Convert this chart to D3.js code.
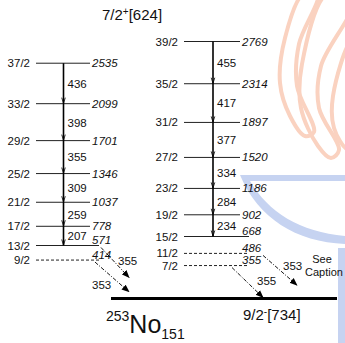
<!DOCTYPE html>
<html>
<head>
<meta charset="utf-8">
<script src="https://cdn.jsdelivr.net/npm/d3@7"></script>
<style>
  html, body { margin: 0; padding: 0; background: #fff; }
  svg { display: block; }
  text { font-family: "Liberation Sans", Arial, Helvetica, sans-serif; fill: #111; }
</style>
</head>
<body>
<svg id="chart" width="345" height="343"></svg>
<script>
// Level scheme of 253No: two rotational bands built on the 9/2-[734] ground state.

// Band on the 7/2+[624] configuration (left column)
const leftSpins    = ["37/2", "33/2", "29/2", "25/2", "21/2", "17/2", "13/2", "9/2"];
const leftEnergies = [2535, 2099, 1701, 1346, 1037, 778, 571, 414];
const leftGammas   = [436, 398, 355, 309, 259, 207];

// Band on the 9/2-[734] configuration (centre column)
const centerSpins    = ["39/2", "35/2", "31/2", "27/2", "23/2", "19/2", "15/2", "11/2", "7/2"];
const centerEnergies = [2769, 2314, 1897, 1520, 1186, 902, 668, 486, 355];
const centerGammas   = [455, 417, 377, 334, 284, 234];

// Tentative levels (dashed) and the out-of-band decays towards the ground state
const tentativeLevels = [414, 486, 355];
const outFrom  = [571, 414, 486, 355];
const outGamma = [355, 353, 353, 355];

const bandLabels = ["7/2", "9/2"];
const bandOrbitals = ["[624]", "[734]"];
const nucleus = { mass: "253", symbol: "No", neutrons: "151" };

const svg = d3.select("#chart");
const y = d3.scaleLinear().domain([0, 2769]).range([298.5, 41.5]);

// ---- background emblem -------------------------------------------------
const bg = svg.append("g");
const loop = d3.line().curve(d3.curveCatmullRomClosed);
const peach = "#fad2c0";
[
  [[303,-6],[285,38],[280,83],[290,116],[305,136],[314,132],[297,86],[299,44],[318,-6]],
  [[327,-6],[302,64],[301,108],[318,146],[331,158],[339,150],[319,108],[321,66],[352,2]],
  [[352,40],[333,96],[334,128],[348,150],[360,150],[360,40]]
].forEach(pts => {
  bg.append("path").attr("d", loop(pts))
    .attr("fill", "none").attr("stroke", peach).attr("stroke-width", 4);
});
const blue = "#c6d3f1";
bg.append("path")
  .attr("d", "M240,175 L345,175 L345,181 L250,181 C268,212 300,232 345,236 L345,244 C296,242 258,218 240,175 Z")
  .attr("fill", blue);
bg.append("rect").attr("x", 338).attr("y", 248).attr("width", 7).attr("height", 95).attr("fill", blue);

// ---- bands ---------------------------------------------------------------
const fg = svg.append("g");

function drawBand(spins, energies, gammas, g) {
  // level lines
  energies.forEach((e, i) => {
    const dashed = tentativeLevels.includes(e);
    const offsetLabel = i >= gammas.length;   // levels at the bottom carry raised labels
    const yy = y(e);
    fg.append("line")
      .attr("x1", g.x1).attr("x2", offsetLabel ? g.x2 + 9 : g.x2)
      .attr("y1", yy).attr("y2", yy)
      .attr("stroke", "#222").attr("stroke-width", 1)
      .attr("stroke-dasharray", dashed ? "3,2" : null);
    fg.append("text")
      .attr("x", g.x1 - 6).attr("y", yy).attr("dy", "0.35em")
      .attr("text-anchor", "end").attr("font-size", 11.5)
      .text(spins[i]);
    fg.append("text")
      .attr("x", g.x2 + 2).attr("y", offsetLabel ? yy - 1.5 : yy)
      .attr("dy", offsetLabel ? 0 : "0.35em")
      .attr("font-size", 11.5).attr("font-style", "italic")
      .text(e);
  });
  // in-band cascade
  const top = energies[0], bottom = energies[gammas.length];
  fg.append("line")
    .attr("x1", g.ax).attr("x2", g.ax)
    .attr("y1", y(top)).attr("y2", y(bottom))
    .attr("stroke", "#000").attr("stroke-width", 1.6);
  gammas.forEach((eg, i) => {
    const hi = energies[i], lo = energies[i + 1];
    const tip = y(lo) - 0.5;
    fg.append("path")
      .attr("d", `M${g.ax - 1.8},${tip - 5.5} L${g.ax},${tip} L${g.ax + 1.8},${tip - 5.5}`)
      .attr("fill", "none").attr("stroke", "#000").attr("stroke-width", 0.8);
    fg.append("text")
      .attr("x", g.ax + 4).attr("y", y((hi + lo) / 2)).attr("dy", "0.38em")
      .attr("font-size", 11.5)
      .text(eg);
  });
}

drawBand(leftSpins, leftEnergies, leftGammas, { x1: 36, x2: 90, ax: 63.5 });
drawBand(centerSpins, centerEnergies, centerGammas, { x1: 184, x2: 240, ax: 213 });

// ---- ground state ----------------------------------------------------------
fg.append("line")
  .attr("x1", 111).attr("x2", 337).attr("y1", y(0)).attr("y2", y(0))
  .attr("stroke", "#000").attr("stroke-width", 3);

// ---- out-of-band decays (dash-dot arrows) ---------------------------------
const defs = svg.append("defs");
defs.append("marker").attr("id", "head")
  .attr("viewBox", "0 0 10 10").attr("refX", 9).attr("refY", 5)
  .attr("markerWidth", 8).attr("markerHeight", 8).attr("markerUnits", "userSpaceOnUse")
  .attr("orient", "auto")
  .append("path").attr("d", "M0,1 L10,5 L0,9 Z").attr("fill", "#000");

const outGeom = [
  { xs: 101, xe: 129, lx: 118, ly: 265 },
  { xs: 95,  xe: 129, lx: 92,  ly: 289 },
  { xs: 263, xe: 297, lx: 283, ly: 270 },
  { xs: 232, xe: 263, lx: 257, ly: 285 }
];
outFrom.forEach((e, i) => {
  const g = outGeom[i];
  fg.append("line")
    .attr("x1", g.xs).attr("y1", y(e) + 2)
    .attr("x2", g.xe).attr("y2", y(e - outGamma[i]) - 1)
    .attr("stroke", "#000").attr("stroke-width", 0.9)
    .attr("stroke-dasharray", "4,1.5,1,1.5")
    .attr("marker-end", "url(#head)");
  fg.append("text").attr("x", g.lx).attr("y", g.ly)
    .attr("font-size", 11.5).text(outGamma[i]);
});

// ---- band and nucleus labels ----------------------------------------------
const t1 = fg.append("text").attr("x", 102).attr("y", 20).attr("font-size", 15);
t1.append("tspan").text(bandLabels[0]);
t1.append("tspan").attr("dy", -5).attr("font-size", 10).text("+");
t1.append("tspan").attr("dy", 5).text(bandOrbitals[0]);

const t2 = fg.append("text").attr("x", 243).attr("y", 320).attr("font-size", 15);
t2.append("tspan").text(bandLabels[1]);
t2.append("tspan").attr("dy", -5).attr("font-size", 10).text("-");
t2.append("tspan").attr("dy", 5).text(bandOrbitals[1]);

const t3 = fg.append("text").attr("x", 106).attr("y", 333).attr("font-size", 25);
t3.append("tspan").attr("dy", -12).attr("font-size", 14).text(nucleus.mass);
t3.append("tspan").attr("dy", 12).text(nucleus.symbol);
t3.append("tspan").attr("dy", 5.5).attr("font-size", 14).text(nucleus.neutrons);

fg.append("text").attr("x", 322).attr("y", 263).attr("text-anchor", "middle")
  .attr("font-size", 11).text("See");
fg.append("text").attr("x", 305).attr("y", 276)
  .attr("font-size", 11).text("Caption");
</script>
</body>
</html>
